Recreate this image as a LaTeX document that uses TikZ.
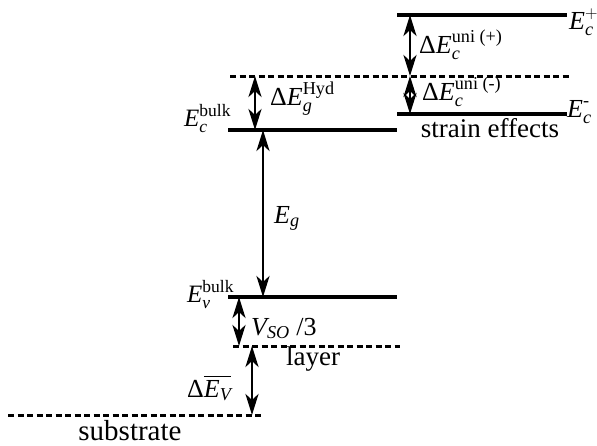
\documentclass[tikz,border=0pt]{standalone}
\usepackage{amsmath}
\usepackage{fontspec}
\setmainfont{Liberation Serif}
\usetikzlibrary{arrows.meta}
\begin{document}
\begin{tikzpicture}[x=1pt,y=-1pt,
  level/.style={line width=3.6pt},
  shifted/.style={line width=3pt,dash pattern=on 6pt off 3.5pt},
  gap/.style={line width=2.8pt,{Stealth[length=21pt,width=13pt,inset=6pt]}-{Stealth[length=21pt,width=13pt,inset=6pt]}},
  lbl/.style={font=\fontsize{26}{30}\selectfont,inner sep=0pt},
  txt/.style={font=\fontsize{27}{30}\selectfont,inner sep=0pt}]
\useasboundingbox (0,0) rectangle (597,445);

% Niveaus (Verspannung)
\draw[level] (397,15) coordinate (cpa) -- (567,15) coordinate (cpb);
\draw[shifted] (230,76) coordinate (hyda) -- (570,76) coordinate (hydb);
\draw[level] (397,114) coordinate (cma) -- (567,114) coordinate (cmb);

% Niveaus (bulk, layer, substrate)
\draw[level] (228,130) coordinate (cba) -- (397,130) coordinate (cbb);
\draw[level] (228,297) coordinate (vba) -- (397,297) coordinate (vbb);
\draw[shifted] (233,346) coordinate (laya) -- (400,346) coordinate (layb);
\draw[shifted] (8,415) coordinate (suba) -- (262,415) coordinate (subb);

% Pfeile
\coordinate (up1) at (410,15);  \coordinate (up2) at (410,76);
\coordinate (um1) at (410,76);  \coordinate (um2) at (410,114);
\coordinate (hy1) at (255,76);  \coordinate (hy2) at (255,130);
\coordinate (eg1) at (263,130); \coordinate (eg2) at (263,297);
\coordinate (so1) at (239,297); \coordinate (so2) at (239,346);
\coordinate (dv1) at (252,346); \coordinate (dv2) at (252,415);
\draw[gap] (up1) -- (up2);
\draw[gap] (um1) -- (um2);
\draw[gap] (hy1) -- (hy2);
\draw[gap] (eg1) -- (eg2);
\draw[gap] (so1) -- (so2);
\draw[gap] (dv1) -- (dv2);

% Beschriftungen
\node[lbl,anchor=base west] (ecp) at (569,29) {$\textit{E}_{\textit{c}}^{+}$};
\node[lbl,anchor=base west] (dup) at (419,53) {Δ$\textit{E}_{\textit{c}}^{\text{uni (+)}}$};
\node[lbl,anchor=base west] (dum) at (422,100) {Δ$\textit{E}_{\textit{c}}^{\text{uni (-)}}$};
\node[lbl,anchor=base west] (ecm) at (567,117) {$\textit{E}_{\textit{c}}^{\text{-}}$};
\node[txt,anchor=base] (str) at (490,137) {strain effects};
\node[lbl,anchor=base west] (dhy) at (270,105) {Δ$\textit{E}_{\textit{g}}^{\text{Hyd}}$};
\node[lbl,font=\fontsize{25}{30}\selectfont,anchor=base west] (ecb) at (184,126) {$\textit{E}_{\textit{c}}^{\text{bulk}}$};
\node[lbl,anchor=base west] (egl) at (274,223) {$\textit{E}_{\textit{g}}$};
\node[lbl,font=\fontsize{25}{30}\selectfont,anchor=base west] (evb) at (187,302) {$\textit{E}_{\textit{v}}^{\text{bulk}}$};
\node[lbl,anchor=base west] (vso) at (251,335) {$\textit{V}_{\textit{SO}}$ /3};
\node[txt,anchor=base] (lay) at (313,365) {layer};
\node[lbl,anchor=base west] (dev) at (187,397) {Δ$\overline{\textit{E}_{\textit{V}}}$};
\node[txt,font=\fontsize{29}{32}\selectfont,anchor=base] (sub) at (130,440) {substrate};

\end{tikzpicture}
\end{document}
